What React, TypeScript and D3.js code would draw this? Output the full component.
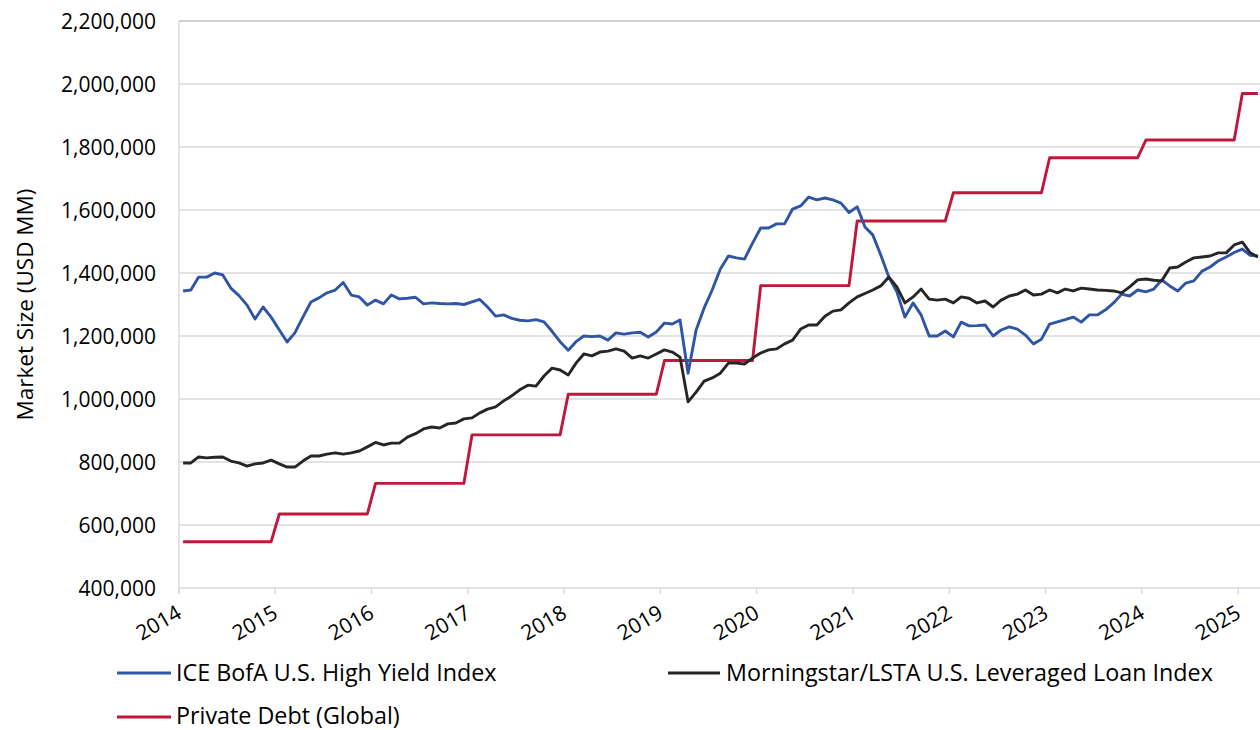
import { useEffect } from "react";
import * as d3 from "d3";

// year labels on the x axis
const years = [2014, 2015, 2016, 2017, 2018, 2019, 2020, 2021, 2022, 2023, 2024, 2025];

// monthly market size, USD MM, Jan 2014 .. Mar 2025
const highYield = [
  1343000, 1346000, 1387000, 1387000, 1400000, 1394000, 1352000, 1328000, 1298000, 1254000, 1292000, 1260000,
  1219000, 1181000, 1210000, 1260000, 1308000, 1321000, 1337000, 1346000, 1370000, 1330000, 1324000, 1298000,
  1314000, 1302000, 1330000, 1318000, 1320000, 1323000, 1302000, 1305000, 1303000, 1302000, 1303000, 1300000,
  1308000, 1316000, 1292000, 1263000, 1267000, 1256000, 1250000, 1248000, 1252000, 1245000, 1215000, 1182000,
  1155000, 1182000, 1200000, 1198000, 1200000, 1187000, 1210000, 1206000, 1210000, 1212000, 1197000, 1213000,
  1241000, 1238000, 1251000, 1082000, 1219000, 1289000, 1346000, 1413000, 1454000, 1448000, 1444000, 1495000,
  1543000, 1543000, 1556000, 1556000, 1603000, 1613000, 1641000, 1632000, 1638000, 1632000, 1622000, 1592000,
  1610000, 1546000, 1521000, 1457000, 1387000, 1340000, 1260000, 1305000, 1267000, 1200000, 1200000, 1216000,
  1197000, 1244000, 1232000, 1233000, 1235000, 1200000, 1219000, 1229000, 1222000, 1203000, 1175000, 1190000,
  1238000, 1245000, 1252000, 1260000, 1244000, 1267000, 1267000, 1283000, 1305000, 1333000, 1327000, 1346000,
  1340000, 1349000, 1378000, 1359000, 1343000, 1368000, 1375000, 1406000, 1419000, 1438000, 1451000, 1465000,
  1476000, 1456000, 1454000,
];

const leveragedLoans = [
  797000, 797000, 816000, 813000, 815000, 816000, 803000, 797000, 787000, 794000, 797000, 806000,
  794000, 784000, 784000, 803000, 819000, 819000, 825000, 829000, 825000, 829000, 835000, 848000,
  862000, 854000, 860000, 860000, 879000, 890000, 905000, 911000, 908000, 921000, 924000, 937000,
  940000, 956000, 968000, 975000, 994000, 1010000, 1029000, 1044000, 1041000, 1073000, 1098000, 1092000,
  1076000, 1114000, 1143000, 1137000, 1149000, 1152000, 1159000, 1152000, 1130000, 1137000, 1130000, 1143000,
  1156000, 1149000, 1133000, 991000, 1022000, 1057000, 1067000, 1082000, 1114000, 1114000, 1111000, 1130000,
  1146000, 1156000, 1159000, 1175000, 1187000, 1222000, 1235000, 1235000, 1263000, 1279000, 1283000, 1305000,
  1324000, 1335000, 1346000, 1359000, 1387000, 1356000, 1305000, 1324000, 1349000, 1317000, 1314000, 1317000,
  1305000, 1324000, 1320000, 1305000, 1311000, 1292000, 1314000, 1327000, 1333000, 1346000, 1330000, 1333000,
  1346000, 1337000, 1349000, 1343000, 1352000, 1349000, 1346000, 1345000, 1343000, 1337000, 1356000, 1378000,
  1381000, 1377000, 1375000, 1416000, 1419000, 1435000, 1448000, 1451000, 1454000, 1464000, 1464000, 1489000,
  1498000, 1464000, 1451000,
];

// one value per year, held flat through the year
const privateDebt = [547000, 635000, 732000, 886000, 1015000, 1122000, 1360000, 1565000, 1655000, 1766000, 1822000, 1970000];

const yTicks = [400000, 600000, 800000, 1000000, 1200000, 1400000, 1600000, 1800000, 2000000, 2200000];

const seriesNames = ["ICE BofA U.S. High Yield Index", "Morningstar/LSTA U.S. Leveraged Loan Index", "Private Debt (Global)"];
const colors = ["#2F55A4", "#262626", "#C0183A"];

const W = 1260;
const H = 730;
const left = 179;
const right = 1262;
const top = 21;
const bottom = 588;
const font = "'Open Sans', sans-serif";

const start = new Date(2014, 0, 1);
const end = new Date(2025, 3, 1);
const x = d3.scaleTime().domain([start, end]).range([left, right]);
const y = d3.scaleLinear().domain([400000, 2200000]).range([bottom, top]);

// Excel puts each month in the middle of its slot
const monthX = (i: number) => (x(d3.timeMonth.offset(start, i)) + x(d3.timeMonth.offset(start, i + 1))) / 2;

const line = d3.line<[number, number]>().x((d) => d[0]).y((d) => d[1]);

const hyPts = highYield.map((v, i) => [monthX(i), y(v)] as [number, number]);
const llPts = leveragedLoans.map((v, i) => [monthX(i), y(v)] as [number, number]);
const lastMonth = highYield.length - 1;
const pdPts: [number, number][] = [];
privateDebt.forEach((v, k) => {
  pdPts.push([monthX(k * 12), y(v)]);
  pdPts.push([monthX(Math.min(k * 12 + 11, lastMonth)), y(v)]);
});

export default function App() {
  useEffect(() => {
    document.body.style.margin = "0";
  }, []);

  const fmt = d3.format(",");

  return (
    <svg width={W} height={H} style={{ display: "block", background: "#fff" }} fontFamily={font}>
      <defs>
        <clipPath id="plot">
          <rect x={left} y={top - 5} width={right - left} height={bottom - top + 10} />
        </clipPath>
      </defs>

      {yTicks.map((t) => (
        <line key={t} x1={left} x2={right} y1={y(t)} y2={y(t)}
          stroke={t === 2200000 ? "#BFBFBF" : "#D9D9D9"} strokeWidth={1.4} />
      ))}
      <line x1={left} x2={left} y1={top} y2={bottom + 6} stroke="#D9D9D9" strokeWidth={1.4} />
      {years.map((yr) => {
        const tx = x(new Date(yr, 0, 1));
        return <line key={yr} x1={tx} x2={tx} y1={bottom} y2={bottom + 6} stroke="#D9D9D9" strokeWidth={1.4} />;
      })}

      {yTicks.map((t) => (
        <text key={t} x={156} y={y(t) + 7.5} textAnchor="end" fontSize={21} fill="#000">{fmt(t)}</text>
      ))}
      {years.map((yr) => {
        const tx = x(new Date(yr, 0, 1));
        return (
          <text key={yr} transform={`translate(${tx + 4},${617}) rotate(-30)`} textAnchor="end" fontSize={21} fill="#000">
            {yr}
          </text>
        );
      })}
      <text transform={`translate(33,${(top + bottom) / 2}) rotate(-90)`} textAnchor="middle" fontSize={22.5} fill="#000">
        Market Size (USD MM)
      </text>

      <g clipPath="url(#plot)" fill="none" strokeWidth={2.9} strokeLinejoin="round">
        <path d={line(pdPts) || ""} stroke={colors[2]} />
        <path d={line(hyPts) || ""} stroke={colors[0]} />
        <path d={line(llPts) || ""} stroke={colors[1]} />
      </g>

      <g fontSize={23.3} fill="#000">
        <line x1={117} x2={171} y1={673} y2={673} stroke={colors[0]} strokeWidth={2.9} />
        <text x={176} y={681}>{seriesNames[0]}</text>
        <line x1={668} x2={720} y1={673} y2={673} stroke={colors[1]} strokeWidth={2.9} />
        <text x={726} y={681}>{seriesNames[1]}</text>
        <line x1={117} x2={171} y1={717} y2={717} stroke={colors[2]} strokeWidth={2.9} />
        <text x={176} y={724}>{seriesNames[2]}</text>
      </g>
    </svg>
  );
}
